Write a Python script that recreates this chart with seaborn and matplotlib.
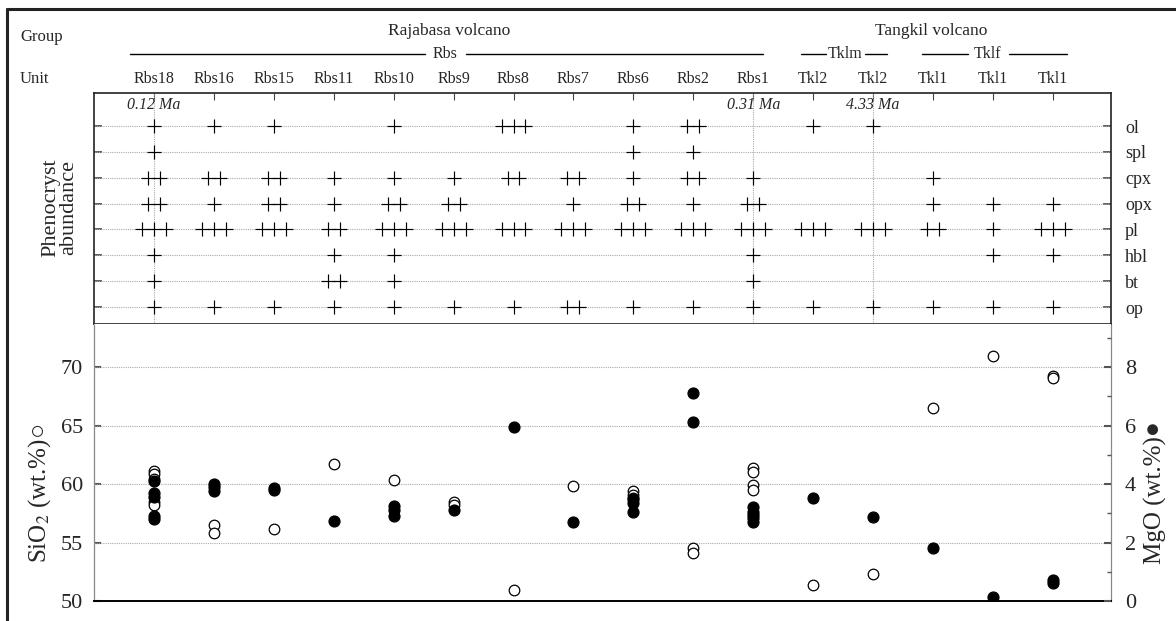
import matplotlib
matplotlib.use('Agg')
import pandas as pd
import matplotlib.pyplot as plt
from matplotlib.lines import Line2D
import seaborn as sns

sns.set_style('white')
plt.rcParams['font.family'] = ['Liberation Serif', 'DejaVu Serif']
plt.rcParams['mathtext.fontset'] = 'stix'

# ---- data -------------------------------------------------------------
units = ['Rbs18', 'Rbs16', 'Rbs15', 'Rbs11', 'Rbs10', 'Rbs9', 'Rbs8', 'Rbs7',
         'Rbs6', 'Rbs2', 'Rbs1', 'Tkl2', 'Tkl2', 'Tkl1', 'Tkl1', 'Tkl1']
minerals = ['ol', 'spl', 'cpx', 'opx', 'pl', 'hbl', 'bt', 'op']

# number of "+" for each unit (phenocryst abundance)
ol = [1, 1, 1, 0, 1, 0, 3, 0, 1, 2, 0, 1, 1, 0, 0, 0]
spl = [1, 0, 0, 0, 0, 0, 0, 0, 1, 1, 0, 0, 0, 0, 0, 0]
cpx = [2, 2, 2, 1, 1, 1, 2, 2, 1, 2, 1, 0, 0, 1, 0, 0]
opx = [2, 1, 2, 1, 2, 2, 0, 1, 2, 1, 2, 0, 0, 1, 1, 1]
pl = [3, 3, 3, 2, 3, 3, 3, 3, 3, 3, 3, 3, 3, 2, 1, 3]
hbl = [1, 0, 0, 1, 1, 0, 0, 0, 0, 0, 1, 0, 0, 0, 1, 1]
bt = [1, 0, 0, 2, 1, 0, 0, 0, 0, 0, 1, 0, 0, 0, 0, 0]
op = [1, 1, 1, 1, 1, 1, 1, 2, 1, 1, 1, 1, 1, 1, 1, 1]
abundance = [ol, spl, cpx, opx, pl, hbl, bt, op]

age_units = [0, 10, 12]
age_labels = ['0.12 Ma', '0.31 Ma', '4.33 Ma']

# SiO2 (open circles), index of unit for each analysis
sio2_unit = [0, 0, 0, 0, 0, 1, 1, 2, 3, 4, 5, 5, 6, 7, 8, 8, 8, 9, 9,
             10, 10, 10, 10, 11, 12, 13, 14, 15, 15]
sio2 = [61.1, 60.85, 60.4, 58.5, 58.2, 56.5, 55.85, 56.2, 61.7, 60.35,
        58.45, 58.25, 50.9, 59.85, 59.4, 59.1, 58.85, 54.5, 54.1,
        61.35, 61.0, 59.95, 59.5, 51.35, 52.3, 66.5, 70.95, 69.25, 69.1]

# MgO (filled circles)
mgo_unit = [0, 0, 0, 0, 0, 1, 1, 1, 2, 2, 3, 4, 4, 4, 5, 6, 7, 8, 8, 8,
            9, 9, 10, 10, 10, 10, 10, 11, 12, 13, 14, 15, 15]
mgo = [4.1, 3.7, 3.55, 2.9, 2.8, 4.0, 3.9, 3.75, 3.88, 3.8, 2.75,
       3.25, 3.1, 2.9, 3.1, 5.95, 2.7, 3.5, 3.35, 3.05,
       7.12, 6.13, 3.2, 3.05, 2.95, 2.85, 2.7, 3.52, 2.88, 1.82, 0.12, 0.72, 0.6]

# ---- long table of "+" marks ------------------------------------------
step = 0.2
rows = []
for mi, (name, counts) in enumerate(zip(minerals, abundance)):
    for ui, n in enumerate(counts):
        for k in range(n):
            rows.append({'x': ui + (k - (n - 1) / 2) * step,
                         'y': len(minerals) - mi})
plus_df = pd.DataFrame(rows)
sio2_df = pd.DataFrame({'x': sio2_unit, 'SiO2': sio2})
mgo_df = pd.DataFrame({'x': mgo_unit, 'MgO': mgo})

W, H = 1176, 621
fig = plt.figure(figsize=(W / 100, H / 100), dpi=100)


def fx(px):
    return px / W


def fy(py):
    return 1 - py / H


ax_l, ax_r = 94, 1111
ax_top = fig.add_axes([fx(ax_l), fy(324), fx(ax_r - ax_l), (324 - 93) / H])
ax_bot = fig.add_axes([fx(ax_l), fy(601), fx(ax_r - ax_l), (601 - 324) / H])

xlim = (-1, 15.97)
grid_kw = dict(color='#aaaaaa', linestyle=(0, (1, 1)), linewidth=0.8)

# ---- phenocryst panel -------------------------------------------------
sns.scatterplot(data=plus_df, x='x', y='y', marker='+', s=95, color='black',
                linewidth=0.85, ax=ax_top, zorder=3)
ax_top.set_xlim(*xlim)
ax_top.set_ylim(0.343, 9.28)
ax_top.set_yticks(range(1, len(minerals) + 1))
ax_top.set_yticklabels(minerals[::-1])
ax_top.yaxis.tick_right()
ax_top.set_xticks(range(len(units)))
ax_top.tick_params(axis='x', top=True, bottom=False, labelbottom=False,
                   direction='in', length=5, width=0.8, color='#444444')
ax_top.tick_params(axis='y', left=True, right=True, labelleft=False,
                   labelright=True, direction='in', length=6, width=1.2,
                   color='#444444', labelsize=13, pad=10)
for y in range(1, len(minerals) + 1):
    ax_top.axhline(y, zorder=1, **grid_kw)
for u, lab in zip(age_units, age_labels):
    ax_top.axvline(u, zorder=1, **grid_kw)
    ax_top.text(u, 8.8, lab, ha='center', va='center', style='italic',
                fontsize=11.5)
ax_top.set_xlabel('')
ax_top.set_ylabel('')
for s in ax_top.spines.values():
    s.set_color('#222222')
    s.set_linewidth(1.2)

# ---- geochemistry panel -----------------------------------------------
sns.scatterplot(data=sio2_df, x='x', y='SiO2', marker='o', s=58,
                facecolor='white', edgecolor='black', linewidth=0.9,
                ax=ax_bot, zorder=3)
ax_bot.set_xlim(*xlim)
ax_bot.set_ylim(50, 73.7)
ax_bot.set_yticks([50, 55, 60, 65, 70])
ax_bot.set_xticks([])
ax_bot.set_xlabel('')
ax_bot.set_ylabel('')
for y in [55, 60, 65, 70]:
    ax_bot.axhline(y, zorder=1, **grid_kw)
ax_bot.tick_params(axis='y', left=True, direction='in', length=5, width=1.5,
                   color='#555555', labelsize=16, pad=8)
ax_bot.spines['bottom'].set_color('black')
ax_bot.spines['bottom'].set_linewidth(1.4)
ax_bot.spines['top'].set_visible(False)
for side in ['left', 'right']:
    ax_bot.spines[side].set_linestyle((0, (1, 1)))
    ax_bot.spines[side].set_color('#888888')
    ax_bot.spines[side].set_linewidth(0.9)

ax_mg = ax_bot.twinx()
sns.scatterplot(data=mgo_df, x='x', y='MgO', marker='o', s=62,
                color='black', edgecolor='black', linewidth=0.9,
                ax=ax_mg, zorder=3)
ax_mg.set_xlim(*xlim)
ax_mg.set_ylim(0, 9.48)
ax_mg.set_yticks([0, 2, 4, 6, 8])
ax_mg.set_yticks([1, 3, 5, 7, 9], minor=True)
ax_mg.set_xlabel('')
ax_mg.set_ylabel('')
ax_mg.tick_params(axis='y', which='major', right=True, direction='in',
                  length=5, width=1.5, color='#555555', labelsize=16, pad=10)
ax_mg.tick_params(axis='y', which='minor', right=True, direction='in',
                  length=3, width=1.0, color='#555555')
for s in ax_mg.spines.values():
    s.set_visible(False)

# ---- axis titles ------------------------------------------------------
fig.text(fx(60), fy(208), 'Phenocryst\nabundance', rotation=90,
         ha='center', va='center', fontsize=16, linespacing=0.95)
fig.text(fx(40), fy(493), 'SiO$_2$ (wt.%)\u25cb', rotation=90,
         ha='center', va='center', fontsize=18,
         family=['Liberation Serif', 'DejaVu Sans'])
fig.text(fx(1155), fy(493), 'MgO (wt.%)\u25cf', rotation=90,
         ha='center', va='center', fontsize=18,
         family=['Liberation Serif', 'DejaVu Sans'])

# ---- header -----------------------------------------------------------
hdr = dict(ha='center', va='center', fontsize=11.5)
fig.text(fx(20), fy(37), 'Group', ha='left', va='center', fontsize=12)
fig.text(fx(20), fy(79), 'Unit', ha='left', va='center', fontsize=12)
fig.text(fx(449), fy(31), 'Rajabasa volcano', ha='center', va='center',
         fontsize=12.5)
fig.text(fx(931), fy(31), 'Tangkil volcano', ha='center', va='center',
         fontsize=12.5)
for i, u in enumerate(units):
    px = ax_l + (i - xlim[0]) / (xlim[1] - xlim[0]) * (ax_r - ax_l)
    fig.text(fx(px), fy(79), u, **hdr)

fig.text(fx(445), fy(54), 'Rbs', **hdr)
fig.text(fx(845), fy(54), 'Tklm', **hdr)
fig.text(fx(988), fy(54), 'Tklf', **hdr)
for x0, x1 in [(130, 425), (466, 763), (801, 826), (865, 887),
               (922, 968), (1009, 1067)]:
    fig.add_artist(Line2D([fx(x0), fx(x1)], [fy(54), fy(54)],
                          color='black', linewidth=1.0))

# outer frame (cropped)
fig.add_artist(Line2D([fx(6.5), fx(6.5)], [fy(9), 0], color='#222222',
                      linewidth=2.2))
fig.add_artist(Line2D([fx(6.5), 1], [fy(9), fy(9)], color='#222222',
                      linewidth=2.2))

fig.savefig('out.png', dpi=100)
